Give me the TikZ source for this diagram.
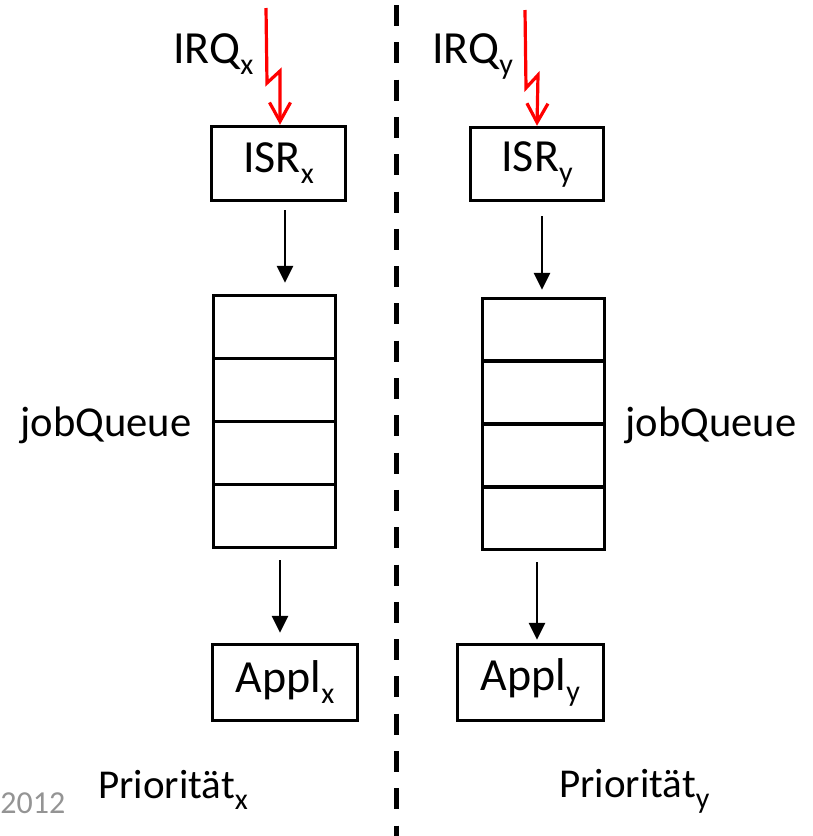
\documentclass[tikz,border=0pt]{standalone}
\usepackage{fontspec}
\setmainfont{Carlito}
\usetikzlibrary{arrows.meta,calc}
% lowered subscript in a fixed small size
\newcommand\lsub[1]{\raisebox{-5.5pt}{\fontsize{15}{15}\selectfont #1}}
\begin{document}
\begin{tikzpicture}[x=0.5pt,y=-0.5pt,
  frame/.style={draw,line width=1.75pt,inner sep=0pt,
    font=\fontsize{23}{27}\selectfont},
  cell/.style={draw,line width=1.75pt,inner sep=0pt,minimum width=61pt},
  label/.style={inner sep=0pt,anchor=base west},
  flow/.style={line width=1.4pt,-{Triangle[length=8.5pt,width=8pt]}},
  irq/.style={draw=red,line width=1.6pt,line join=miter,
    -{Straight Barb[length=9.5pt,width=10.5pt,line width=1.6pt]}},
  divider/.style={line width=2.5pt,dash pattern=on 10.5pt off 8.15pt}]
\useasboundingbox (0,0) rectangle (813,836);

% priority boundary
\coordinate (divtop) at (396.5,5);
\coordinate (divbot) at (396.5,836);
\draw[divider] (divtop) -- (divbot);

% ---- side x ----
\node[frame,minimum width=67pt,minimum height=37pt] (isrx) at (278.5,163.5) {ISR\lsub{x}};
\node[cell,minimum height=31.5pt] (qx1) at (274.5,327) {};
\node[cell,minimum height=31.5pt] (qx2) at (274.5,390) {};
\node[cell,minimum height=31.5pt] (qx3) at (274.5,453) {};
\node[cell,minimum height=31.5pt] (qx4) at (274.5,516) {};
\node[frame,minimum width=72.5pt,minimum height=38pt] (applx) at (285,682.5) {Appl\lsub{x}};

\node[label,font=\fontsize{23}{27}\selectfont] (irqx) at (173,63) {IRQ\lsub{x}};
\node[label,font=\fontsize{21.3}{25}\selectfont] (jqx) at (20,436) {jobQueue};
\node[label,font=\fontsize{20.5}{24}\selectfont] (prx) at (98,798) {Priorität\lsub{x}};
\node[label,font=\fontsize{16}{18}\selectfont,text=black!42] (year) at (0,813) {2012};

\coordinate (srcx) at (266,8);
\draw[irq] (srcx) -- (267,83) -- (280,71) -- ($(isrx.north)+(1.5,0)$);
\draw[flow] ($(isrx.south)+(6.5,8)$) -- ($(qx1.north)+(10.5,-11)$);
\draw[flow] ($(qx4.south)+(5.5,11)$) -- ($(applx.north)+(-5,-10)$);

% ---- side y ----
\node[frame,minimum width=66.5pt,minimum height=36.5pt] (isry) at (537,164) {ISR\lsub{y}};
\node[cell,minimum height=31.375pt] (qy1) at (543.5,329.9) {};
\node[cell,minimum height=31.375pt] (qy2) at (543.5,392.6) {};
\node[cell,minimum height=31.375pt] (qy3) at (543.5,455.4) {};
\node[cell,minimum height=31.375pt] (qy4) at (543.5,518.1) {};
\node[frame,minimum width=73pt,minimum height=38pt] (apply) at (530.5,682.5) {Appl\lsub{y}};

\node[label,font=\fontsize{23}{27}\selectfont] (irqy) at (432,63) {IRQ\lsub{y}};
\node[label,font=\fontsize{21.3}{25}\selectfont] (jqy) at (625,436) {jobQueue};
\node[label,font=\fontsize{20.5}{24}\selectfont] (pry) at (559,797) {Priorität\lsub{y}};

\coordinate (srcy) at (525,10);
\draw[irq] (srcy) -- (526,88) -- (538,75) -- (isry.north);
\draw[flow] ($(isry.south)+(5,14)$) -- ($(qy1.north)+(-1.5,-7)$);
\draw[flow] ($(qy4.south)+(-6.5,11)$) -- ($(apply.north)+(6.5,-3)$);
\end{tikzpicture}
\end{document}
